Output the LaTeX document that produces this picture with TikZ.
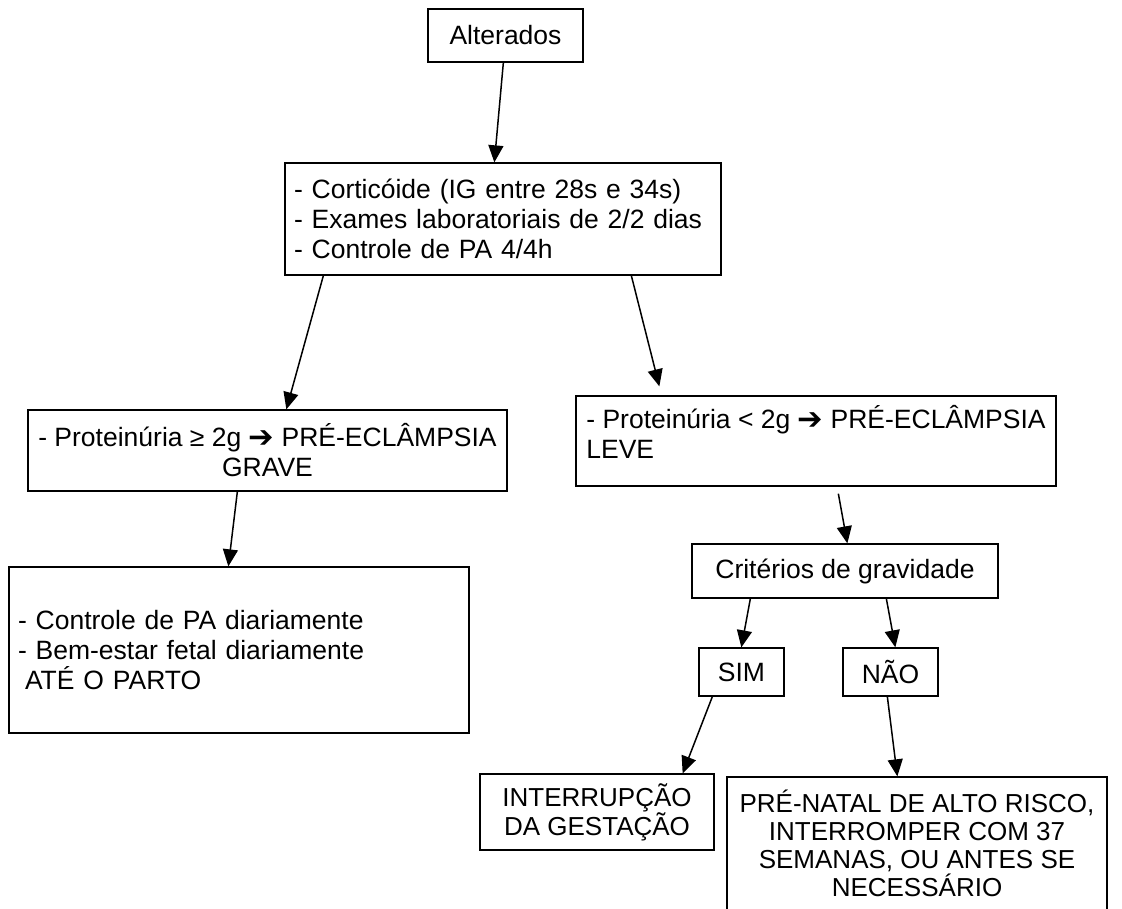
\documentclass[tikz,border=0pt]{standalone}
\usepackage{fontspec}
\setmainfont{Liberation Sans}
\newfontfamily\dingfont{DejaVu Sans}
\usetikzlibrary{arrows.meta}
\newcommand{\flecha}{{\dingfont\raisebox{-1pt}{\scalebox{1.15}{➔}}}}
\tikzset{
  caixa/.style={draw, line width=1.3pt, inner sep=9pt, font=\fontsize{26.5}{30}\selectfont},
  caixab/.style={caixa, font=\fontsize{26}{28}\selectfont},
  seta/.style={line width=1.5pt, -{Triangle[length=17pt,width=15pt]}},
}
\begin{document}
\begin{tikzpicture}[x=1pt,y=-1pt]
\useasboundingbox (0,0) rectangle (1122,908);
\clip (0,0) rectangle (1122,908);
\node[caixa, minimum width=155pt, minimum height=53pt] (alt) at (505.5,35.5) {Alterados};
\node[caixa, text width=418pt, align=left, minimum height=112pt] (cort) at (503,219) {- Corticóide (IG entre 28s e 34s)\\- Exames laboratoriais de 2/2 dias\\- Controle de PA 4/4h};
\node[caixa, align=center, minimum width=479pt, minimum height=81pt] (grave) at (267.5,450.5) {- Proteinúria ≥ 2g \flecha{} PRÉ-ECLÂMPSIA\\GRAVE};
\node[caixa, align=left, minimum width=480pt, minimum height=90pt] (leve) at (816,441) {- Proteinúria < 2g \flecha{} PRÉ-ECLÂMPSIA\\LEVE\\[-12pt]\mbox{}};
\node[caixa, text width=442pt, align=left, minimum height=166pt] (ctrl) at (239,650) {- Controle de PA diariamente\\- Bem-estar fetal diariamente\\\hspace*{7pt}ATÉ O PARTO};
\node[caixa, minimum width=306pt, minimum height=54pt] (crit) at (845,571) {Critérios de gravidade};
\node[caixa, minimum width=85pt, minimum height=48pt] (sim) at (741.5,672) {SIM};
\node[caixa, minimum width=95pt, minimum height=48pt] (nao) at (890.5,672) {NÃO};
\node[caixab, align=center, minimum width=234pt, minimum height=76pt] (interr) at (597,812) {INTERRUPÇÃO\\DA GESTAÇÃO};
\node[caixab, align=center, minimum width=380pt, minimum height=133pt] (prenatal) at (917,843.5) {PRÉ-NATAL DE ALTO RISCO,\\INTERROMPER COM 37\\SEMANAS, OU ANTES SE\\NECESSÁRIO};
\draw [seta] ([xshift=76pt]alt.south west) -- ([xshift=210pt]cort.north west);
\draw [seta] ([xshift=39pt]cort.south west) -- ([xshift=259pt]grave.north west);
\draw [seta] ([xshift=347pt]cort.south west) -- ([xshift=84pt,yshift=9pt]leve.north west);
\draw [seta] ([xshift=210pt]grave.south west) -- ([xshift=220pt]ctrl.north west);
\draw [seta] ([xshift=263pt,yshift=-7pt]leve.south west) -- ([xshift=156pt]crit.north west);
\draw [seta] ([xshift=59pt]crit.south west) -- ([xshift=43pt]sim.north west);
\draw [seta] ([xshift=195pt]crit.south west) -- ([xshift=53pt]nao.north west);
\draw [seta] ([xshift=14pt]sim.south west) -- ([xshift=-32pt]interr.north east);
\draw [seta] ([xshift=45pt]nao.south west) -- ([xshift=171pt]prenatal.north west);
\end{tikzpicture}
\end{document}
